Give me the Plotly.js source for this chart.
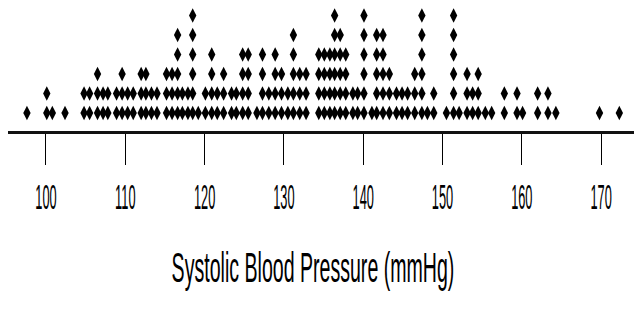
<!DOCTYPE html>
<html><head><meta charset="utf-8">
<script src="https://cdn.plot.ly/plotly-3.0.1.min.js"></script>
<style>html,body{margin:0;padding:0;background:#fff;} #chart{width:634px;height:320px;}</style>
</head><body><div id="chart"></div>
<script>
// Dot columns (systolic blood pressure, mmHg) and number of stacked dots
const binCenters = [97.6,100.1,100.8,102.4,104.8,105.5,106.5,107.2,107.8,108.9,
  109.6,110.3,111.0,112.0,112.6,113.3,114.0,115.2,115.9,116.6,
  117.2,117.9,118.5,119.2,120.1,120.9,121.6,122.4,123.4,124.0,
  124.8,125.5,126.6,127.3,128.1,128.9,129.7,130.5,131.2,132.0,
  132.8,134.4,135.1,135.8,136.4,137.1,137.8,138.7,139.3,140.1,
  141.1,141.7,142.5,143.3,144.2,144.9,145.6,146.5,147.4,148.1,
  148.9,150.5,151.4,152.1,153.1,153.8,154.5,155.4,156.2,157.8,
  159.4,160.1,162.0,163.3,164.3,169.8,172.3];
const binCounts = [1,2,1,1,2,2,3,2,2,2,
  3,2,2,3,3,2,2,3,3,5,
  2,2,6,1,2,4,2,3,2,2,
  4,4,1,4,2,4,3,2,5,3,
  3,4,4,4,6,5,4,2,2,6,
  1,5,5,3,2,2,2,3,6,1,
  2,1,6,1,3,2,3,1,1,2,
  2,1,2,2,1,1,1];
const tickValues = [100,110,120,130,140,150,160,170];
const tickLabels = ['100','110','120','130','140','150','160','170'];
const axisTitle = 'Systolic Blood Pressure (mmHg)';

const xs = [], ys = [];
binCenters.forEach((v, i) => { for (let k = 1; k <= binCounts[i]; k++) { xs.push(v); ys.push(k); } });

const FONT = 'Liberation Sans, Arial, sans-serif';
const trace = {type:'scatter', mode:'markers', x:xs, y:ys,
  marker:{symbol:'diamond-tall', size:10.5, color:'#000', line:{width:0}},
  hoverinfo:'skip', cliponaxis:false};
const layout = {
  width:634, height:320, margin:{l:8, r:0, t:0, b:189},
  paper_bgcolor:'#fff', plot_bgcolor:'#fff', showlegend:false,
  xaxis:{range:[95.21,174.15], tickvals:tickValues, ticktext:tickLabels,
    ticks:'outside', ticklen:31, tickwidth:1, tickcolor:'#000',
    showline:true, linewidth:3, linecolor:'#111', showgrid:false, zeroline:false,
    tickfont:{family:FONT, size:16, color:'#000'}, ticklabelstandoff:18,
    title:{text:axisTitle, font:{family:FONT, size:22, color:'#000'}, standoff:56}},
  yaxis:{range:[0.077,6.795], visible:false, fixedrange:true}
};

function squash(sel, sx, sy, dx){
  document.querySelectorAll(sel).forEach(t => {
    if (!t.hasAttribute('data-orig')) t.setAttribute('data-orig', t.getAttribute('transform') || '');
    const old = t.getAttribute('data-orig');
    t.removeAttribute('transform');
    if (old) t.setAttribute('transform', old);
    const b = t.getBBox();
    const cx = b.x + b.width/2, cy = b.y + b.height/2;
    t.setAttribute('transform', old + ' translate(' + (cx + dx) + ',' + cy + ') scale(' + sx + ',' + sy + ') translate(' + (-cx) + ',' + (-cy) + ')');
  });
}
function stretch(){
  squash('.xtick text', 0.8, 2.15, 0);
  squash('.g-xtitle text', 0.89, 1.95, -8);
}
const gd = document.getElementById('chart');
Plotly.newPlot(gd, [trace], layout, {staticPlot:true, displayModeBar:false}).then(() => {
  stretch();
  setTimeout(stretch, 50);
  setTimeout(stretch, 300);
});
</script>
</body></html>
